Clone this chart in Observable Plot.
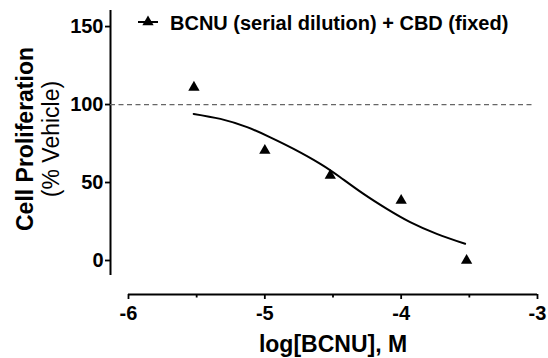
<!DOCTYPE html>
<html>
<head>
<meta charset="utf-8">
<script src="https://cdn.jsdelivr.net/npm/d3@7"></script>
<script src="https://cdn.jsdelivr.net/npm/@observablehq/plot@0.6"></script>
<style>
  html, body { margin: 0; padding: 0; background: #fff; }
  svg { display: block; }
</style>
</head>
<body>
<div id="chart"></div>
<script>
// Data
const logDose = [-5.52, -5, -4.52, -4, -3.52];
const proliferation = [111, 70.5, 54.5, 38.5, 0];

// Fitted curve
const fitX = [-5.522, -5.326, -5.130, -4.960, -4.789, -4.593, -4.447, -4.276, -4.105, -3.934, -3.739, -3.531];
const fitY = [94.0, 90.8, 85.5, 79.0, 71.6, 62.0, 53.4, 42.7, 33.1, 24.6, 17.1, 10.7];

const yTicks = [0, 50, 100, 150];
const xTicks = [-6, -5, -4, -3];
const xMinorTicks = [-5.5, -4.5, -3.5];
const vehicleLevel = 100;

const legendLabel = "BCNU (serial dilution) + CBD (fixed)";
const yTitle = "Cell Proliferation";
const ySubTitle = "(% Vehicle)";
const xTitle = "log[BCNU], M";

const points = logDose.map((x, i) => ({x, y: proliferation[i]}));
const fit = fitX.map((x, i) => ({x, y: fitY[i]}));

const W = 548, H = 358;
const xMin = -6.132, xMax = -3;
const yMin = -21.8, yMax = 160.3;
const yAxisBottom = -9.6;
const font = "'Liberation Sans', Arial, Helvetica, sans-serif";

const chart = Plot.plot({
  width: W,
  height: H,
  marginLeft: 110,
  marginRight: 11,
  marginTop: 10,
  marginBottom: 64,
  style: {fontFamily: font, fontSize: "20px", fontWeight: "bold", color: "#000"},
  x: {domain: [xMin, xMax]},
  y: {domain: [yMin, yMax]},
  marks: [
    // y axis line and ticks
    Plot.ruleX([xMin], {y1: yAxisBottom, y2: yMax, stroke: "#000", strokeWidth: 2}),
    Plot.axisY({ticks: yTicks, tickSize: 5, tickPadding: 2, tickFormat: d => String(d), label: null,
      fontSize: 20, fontWeight: "bold", stroke: "#000", strokeWidth: 1.8}),
    // x axis line and ticks
    Plot.ruleY([yMin], {x1: xTicks[0], x2: xTicks[xTicks.length - 1], stroke: "#000", strokeWidth: 2}),
    Plot.axisX({ticks: xTicks, tickSize: 5, tickPadding: 6, tickFormat: d => String(d), label: null,
      fontSize: 20, fontWeight: "bold", stroke: "#000", strokeWidth: 1.8}),
    Plot.axisX({ticks: xMinorTicks, tickSize: 3.5, text: null, label: null, stroke: "#000", strokeWidth: 1.8}),
    // reference dashed line
    Plot.ruleY([vehicleLevel], {x1: xMin, x2: -3.03, stroke: "#666", strokeWidth: 1.3, strokeDasharray: "5,3.5"}),
    // fitted curve
    Plot.line(fit, {x: "x", y: "y", curve: "natural", stroke: "#000", strokeWidth: 2}),
    // data points
    Plot.dot(points, {x: "x", y: "y", symbol: "triangle", r: 4.2, fill: "#000", stroke: "none"})
  ]
});

const svg = d3.select(chart);

// Axis titles
svg.append("text")
  .attr("transform", "translate(33,139) rotate(-90)")
  .attr("text-anchor", "middle")
  .style("font-family", font).style("font-size", "23px").style("font-weight", "bold")
  .attr("fill", "#000")
  .text(yTitle);
svg.append("text")
  .attr("transform", "translate(59,139) rotate(-90)")
  .attr("text-anchor", "middle")
  .style("font-family", font).style("font-size", "23px").style("font-weight", "normal")
  .attr("fill", "#000")
  .text(ySubTitle);
svg.append("text")
  .attr("x", 333).attr("y", 352)
  .attr("text-anchor", "middle")
  .style("font-family", font).style("font-size", "23px").style("font-weight", "bold")
  .attr("fill", "#000")
  .text(xTitle);

// Legend
const lg = svg.append("g");
lg.append("line").attr("x1", 138).attr("x2", 158).attr("y1", 22).attr("y2", 22)
  .attr("stroke", "#000").attr("stroke-width", 2);
lg.append("path").attr("transform", "translate(148,22)")
  .attr("d", d3.symbol(d3.symbolTriangle, 4.2 * 4.2 * Math.PI)())
  .attr("fill", "#000");
lg.append("text").attr("x", 170).attr("y", 29.5)
  .attr("text-anchor", "start")
  .style("font-family", font).style("font-size", "20px").style("font-weight", "bold")
  .attr("fill", "#000")
  .text(legendLabel);

document.getElementById("chart").appendChild(chart);
</script>
</body>
</html>
